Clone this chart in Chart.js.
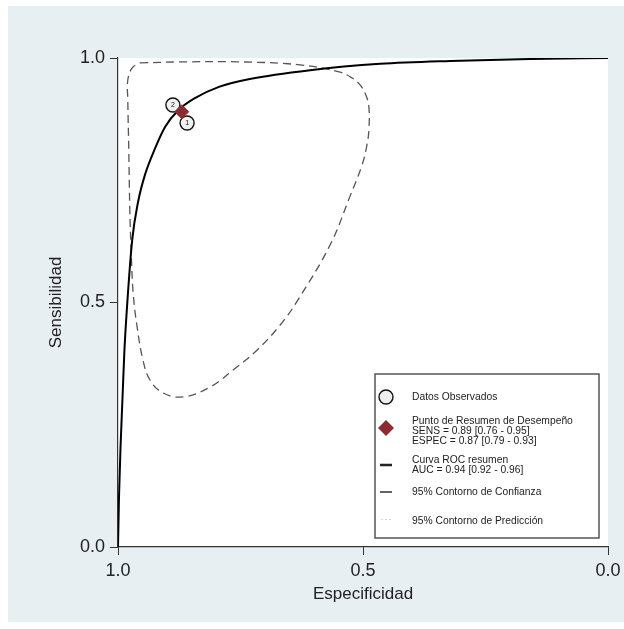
<!doctype html>
<html lang="es">

<head>
    <meta charset="utf-8">
    <title>Curva SROC</title>
    <style>
        html, body { margin: 0; padding: 0; background: #fff; }
        #sroc { display: block; }
    </style>
</head>

<body>
    <canvas id="sroc" width="624" height="629"></canvas>

    <script src="https://cdn.jsdelivr.net/npm/chart.js"></script>
    <script>
        // summary ROC curve (specificity -> sensitivity)
        const curveSpec = [1.0, 0.998, 0.995, 0.991, 0.987, 0.982, 0.971, 0.959, 0.945, 0.924, 0.904, 0.876, 0.843, 0.794, 0.731, 0.608, 0.465, 0.322, 0.159, 0.0];
        const curveSens = [0.0, 0.100, 0.200, 0.300, 0.400, 0.485, 0.628, 0.706, 0.761, 0.816, 0.859, 0.894, 0.918, 0.941, 0.957, 0.975, 0.988, 0.994, 0.998, 1.0];

        // 95% confidence contour, clockwise from the top left
        const confSpec = [0.955, 0.873, 0.751, 0.629, 0.547, 0.522, 0.506, 0.494, 0.488, 0.488, 0.492, 0.502, 0.527, 0.567, 0.633, 0.669, 0.716, 0.765, 0.812, 0.867, 0.908, 0.935, 0.949, 0.961, 0.969, 0.973, 0.976, 0.978, 0.980, 0.980, 0.971, 0.955];
        const confSens = [0.990, 0.992, 0.992, 0.986, 0.971, 0.959, 0.945, 0.924, 0.900, 0.853, 0.822, 0.781, 0.716, 0.618, 0.505, 0.454, 0.403, 0.362, 0.327, 0.307, 0.315, 0.342, 0.382, 0.450, 0.519, 0.601, 0.695, 0.812, 0.914, 0.955, 0.980, 0.990];

        // observed studies
        const studyIds = ['1', '2'];
        const studySpec = [0.859, 0.888];
        const studySens = [0.867, 0.904];

        // summary operating point
        const summarySpec = [0.87];
        const summarySens = [0.89];

        const tickValues = [0, 0.5, 1];
        const tickLabels = ['0.0', '0.5', '1.0'];

        const legendLines = [
            ['Datos Observados'],
            ['Punto de Resumen de Desempeño', 'SENS = 0.89 [0.76 - 0.95]', 'ESPEC = 0.87 [0.79 - 0.93]'],
            ['Curva ROC resumen', 'AUC = 0.94 [0.92 - 0.96]'],
            ['95% Contorno de Confianza'],
            ['95% Contorno de Predicción']
        ];

        const FONT = "'Liberation Sans', Arial, Helvetica, sans-serif";
        const PANEL = '#e8eff3';
        const RED = '#8b2c31';

        const toXY = (xs, ys) => xs.map((x, i) => ({ x: x, y: ys[i] }));

        const backdrop = {
            id: 'backdrop',
            beforeDraw(chart) {
                const c = chart.ctx, a = chart.chartArea;
                c.save();
                c.fillStyle = '#fff';
                c.fillRect(0, 0, chart.width, chart.height);
                c.fillStyle = PANEL;
                c.fillRect(8, 6, chart.width - 8, chart.height - 13);
                c.fillStyle = '#fff';
                c.fillRect(a.left, a.top, a.right - a.left, a.bottom - a.top);
                c.restore();
            }
        };

        // numbers inside the study circles
        const studyNumbers = {
            id: 'studyNumbers',
            afterDatasetsDraw(chart) {
                const c = chart.ctx;
                const pts = chart.getDatasetMeta(1).data;
                c.save();
                c.font = '7px ' + FONT;
                c.fillStyle = '#111';
                c.textAlign = 'center';
                c.textBaseline = 'middle';
                pts.forEach((p, i) => c.fillText(studyIds[i], p.x, p.y + 0.5));
                c.restore();
            }
        };

        const sideLegend = {
            id: 'sideLegend',
            afterDraw(chart) {
                const c = chart.ctx, a = chart.chartArea;
                const L = a.right - 233, T = a.bottom - 173, W = 224, H = 164;
                const mx = L + 11, tx = L + 37;
                c.save();
                c.fillStyle = '#fff';
                c.fillRect(L, T, W, H);
                c.strokeStyle = '#555';
                c.lineWidth = 1.5;
                c.strokeRect(L, T, W, H);

                // markers
                c.beginPath();
                c.arc(mx, T + 23, 7, 0, Math.PI * 2);
                c.fillStyle = '#eeeeee';
                c.fill();
                c.lineWidth = 1.4;
                c.strokeStyle = '#111';
                c.stroke();

                c.beginPath();
                c.moveTo(mx, T + 46); c.lineTo(mx + 8, T + 54); c.lineTo(mx, T + 62); c.lineTo(mx - 8, T + 54);
                c.closePath();
                c.fillStyle = RED;
                c.fill();

                c.strokeStyle = '#222';
                c.lineWidth = 2.5;
                c.beginPath(); c.moveTo(mx - 6, T + 91); c.lineTo(mx + 6, T + 91); c.stroke();
                c.lineWidth = 1.4;
                c.beginPath(); c.moveTo(mx - 6, T + 118); c.lineTo(mx + 6, T + 118); c.stroke();
                c.fillStyle = '#aaa';
                [-4, 0, 4].forEach(d => c.fillRect(mx + d - 0.5, T + 145, 1, 1));

                // texts
                c.font = '10.3px ' + FONT;
                c.fillStyle = '#222';
                c.textBaseline = 'middle';
                const rows = [[T + 23], [T + 47, T + 57, T + 67], [T + 86, T + 96], [T + 118], [T + 147]];
                legendLines.forEach((lines, k) => lines.forEach((s, j) => c.fillText(s, tx, rows[k][j])));
                c.restore();
            }
        };

        const axisCommon = {
            type: 'linear',
            min: 0,
            max: 1,
            afterBuildTicks: s => { s.ticks = tickValues.map(v => ({ value: v })); },
            ticks: {
                padding: 5,
                color: '#222',
                font: { family: FONT, size: 18 },
                callback: v => tickLabels[tickValues.indexOf(v)]
            },
            grid: { drawOnChartArea: false, drawTicks: true, tickLength: 8, color: '#333', lineWidth: 1 },
            border: { display: true, color: '#333', width: 1.2 }
        };

        new Chart(document.getElementById('sroc'), {
            type: 'scatter',
            data: {
                datasets: [
                    {
                        label: 'Curva ROC resumen',
                        data: toXY(curveSpec, curveSens),
                        showLine: true,
                        borderColor: '#000',
                        borderWidth: 2,
                        pointRadius: 0,
                        cubicInterpolationMode: 'monotone',
                        order: 3
                    },
                    {
                        label: 'Datos Observados',
                        data: toXY(studySpec, studySens),
                        pointRadius: 7,
                        backgroundColor: '#f1f1f1',
                        borderColor: '#111',
                        borderWidth: 1.4,
                        order: 2
                    },
                    {
                        label: '95% Contorno de Confianza',
                        data: toXY(confSpec, confSens),
                        showLine: true,
                        borderColor: '#555',
                        borderWidth: 1.3,
                        borderDash: [8, 5],
                        pointRadius: 0,
                        tension: 0.4,
                        order: 4
                    },
                    {
                        label: 'Punto de Resumen de Desempeño',
                        data: toXY(summarySpec, summarySens),
                        pointStyle: 'rectRot',
                        pointRadius: 7,
                        backgroundColor: RED,
                        borderColor: RED,
                        order: 1
                    }
                ]
            },
            options: {
                responsive: false,
                animation: false,
                devicePixelRatio: 1,
                layout: { padding: { left: 42, right: 16, top: 58, bottom: 20 } },
                plugins: { legend: { display: false }, tooltip: { enabled: false } },
                scales: {
                    x: Object.assign({}, axisCommon, {
                        reverse: true,
                        afterFit: s => { s.height = 62; },
                        title: { display: true, text: 'Especificidad', color: '#222', font: { family: FONT, size: 17 } }
                    }),
                    y: Object.assign({}, axisCommon, {
                        afterFit: s => { s.width = 76; },
                        title: { display: true, text: 'Sensibilidad', color: '#222', font: { family: FONT, size: 17 } }
                    })
                }
            },
            plugins: [backdrop, studyNumbers, sideLegend]
        });
    </script>
</body>

</html>
